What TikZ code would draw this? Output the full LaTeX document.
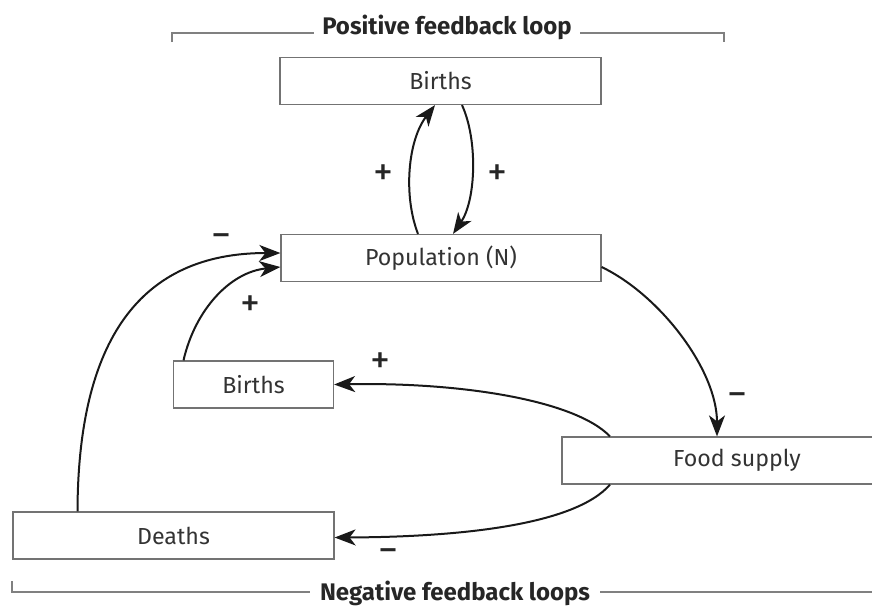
\documentclass[tikz,border=0pt]{standalone}
\usepackage{fontspec}
\setmainfont{Fira Sans}
\usetikzlibrary{arrows.meta}
\begin{document}
\begin{tikzpicture}[x=0.5pt,y=-0.5pt,
  box/.style={draw=black!55,line width=0.6pt,rectangle,minimum height=23.5pt,inner sep=0pt,
    font=\fontsize{11.6}{13}\selectfont,text=black!80},
  conn/.style={line width=1pt,draw=black!90,-{Stealth[length=10.5pt,width=8pt,inset=3pt]}},
  sign/.style={font=\fontsize{20}{20}\selectfont,text=black!85,inner sep=0pt},
  brack/.style={draw=black!50,line width=0.6pt},
  title/.style={font=\bfseries\fontsize{12}{14}\selectfont,text=black!85,inner sep=0pt}]
\clip (0,0) rectangle (872,607);
\useasboundingbox (0,0) rectangle (872,607);
% boxes
\node[box,minimum width=160.5pt] (b1) at (440.5,81) {Births};
\node[box,minimum width=160pt] (pop) at (441,258) {Population (N)};
\node[box,minimum width=80pt] (b2) at (253.5,384.5) {Births};
\node[box,minimum width=175pt] (food) at (737,460.5) {Food supply};
\node[box,minimum width=160.5pt] (deaths) at (173.5,535.5) {Deaths};
% connectors
\draw[conn] ([xshift=-11.5pt]pop.north) .. controls (403,195) and (408,140) .. ([xshift=-2.75pt]b1.south);
\draw[conn] ([xshift=10.75pt]b1.south) .. controls (478,140) and (476,200) .. ([xshift=6pt]pop.north);
\draw[conn] ([yshift=-4.5pt]pop.east) .. controls (660,295) and (717,370) .. ([xshift=-10pt]food.north);
\draw[conn] ([xshift=-63.5pt]food.north) .. controls (575,400) and (460,382) .. (b2.east);
\draw[conn] ([xshift=-63.5pt]food.south) .. controls (575,525) and (460,537) .. ([yshift=-1pt]deaths.east);
\draw[conn] ([xshift=-35pt]b2.north) .. controls (195,310) and (230,272) .. ([yshift=-4.5pt]pop.west);
\draw[conn] ([xshift=-48pt]deaths.north) .. controls (78,340) and (140,253) .. ([yshift=2.5pt]pop.west);
% signs
\node[sign] (p1) at (383,175) {+};
\node[sign] (p2) at (497,175) {+};
\node[sign] (m1) at (221,241) {−};
\node[sign] (p3) at (250,306) {+};
\node[sign] (p4) at (380,363) {+};
\node[sign] (m2) at (737,400) {−};
\node[sign] (m3) at (388,556) {−};
% brackets
\node[title] (tpos) at (447,27) {Positive feedback loop};
\coordinate (tl) at (172,42);
\coordinate (tr) at (724,42);
\draw[brack] (tl) -- (172,33) -- ([xshift=-4pt]tpos.west |- 172,33);
\draw[brack] ([xshift=4pt]tpos.east |- 724,33) -- (724,33) -- (tr);
\node[title] (tneg) at (455,593) {Negative feedback loops};
\coordinate (bl) at (12,581);
\coordinate (br) at (872,592);
\draw[brack] (bl) -- (12,592) -- ([xshift=-5pt]tneg.west |- 12,592);
\draw[brack] ([xshift=5pt]tneg.east |- 872,592) -- (br);
\end{tikzpicture}
\end{document}
